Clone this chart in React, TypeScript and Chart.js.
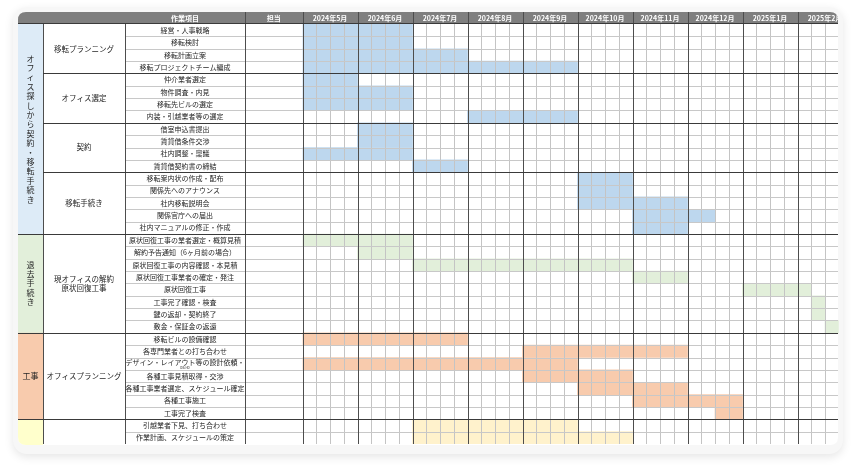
import React, { useEffect, useRef } from 'react';
import { Chart, registerables } from 'chart.js';
Chart.register(...registerables);

// ---------- data ----------
const tasks = [
  '経営・人事戦略', '移転検討', '移転計画立案', '移転プロジェクトチーム編成',
  '仲介業者選定', '物件調査・内見', '移転先ビルの選定', '内装・引越業者等の選定',
  '借室申込書提出', '賃貸借条件交渉', '社内調整・稟議', '賃貸借契約書の締結',
  '移転案内状の作成・配布', '関係先へのアナウンス', '社内移転説明会', '関係官庁への届出', '社内マニュアルの修正・作成',
  '原状回復工事の業者選定・概算見積', '解約予告通知（6ヶ月前の場合）', '原状回復工事の内容確認・本見積', '原状回復工事業者の確定・発注',
  '原状回復工事', '工事完了確認・検査', '鍵の返却・契約終了', '敷金・保証金の返還',
  '移転ビルの設備確認', '各専門業者との打ち合わせ', 'デザイン・レイアウト等の設計依頼・', '各種工事見積取得・交渉',
  '各種工事業者選定、スケジュール確定', '各種工事施工', '工事完了検査',
  '引越業者下見、打ち合わせ', '作業計画、スケジュールの策定',
];
// week index (0 = first week of 2024年5月)
const taskStart = [0, 0, 0, 0, 0, 0, 0, 12, 4, 4, 0, 8, 20, 20, 20, 24, 24, 0, 4, 8, 24, 32, 37, 37, 38, 0, 16, 0, 16, 20, 24, 30, 8, 8];
const taskEnd = [8, 8, 12, 20, 4, 8, 8, 20, 8, 8, 8, 12, 24, 24, 28, 30, 28, 8, 8, 24, 28, 37, 38, 38, 39, 12, 28, 20, 24, 28, 32, 32, 20, 24];

const phaseLabels = ['オフィス探しから契約・移転手続き', '退去手続き', '工事', ''];
const phaseSizes = [17, 8, 7, 2];
const phaseCellColors = ['#ddebf7', '#e2efda', '#f8cbad', '#ffffcc'];
const phaseBarColors = ['#bdd7ee', '#e2efda', '#f8cbad', '#fff2cc'];

const subgroupLabels = ['移転プランニング', 'オフィス選定', '契約', '移転手続き', '現オフィスの解約\n原状回復工事', 'オフィスプランニング', ''];
const subgroupSizes = [4, 4, 4, 5, 8, 7, 2];

const monthLabels = ['2024年5月', '2024年6月', '2024年7月', '2024年8月', '2024年9月', '2024年10月', '2024年11月', '2024年12月', '2025年1月', '2025年2月'];

const rowPhase: number[] = [];
phaseSizes.forEach((n, p) => { for (let i = 0; i < n; i++) rowPhase.push(p); });

const FONT = '"Noto Sans CJK JP", "Noto Sans", sans-serif';

// column edges of the left table
const C0 = 18, C1 = 43, C2 = 125, C3 = 245;
const TABLE_TOP = 12, HEADER_BOTTOM = 24, TABLE_BOTTOM = 444, TABLE_RIGHT = 838;

function roundRect(ctx: CanvasRenderingContext2D, x: number, y: number, w: number, h: number, r: number) {
  ctx.beginPath();
  ctx.moveTo(x + r, y);
  ctx.lineTo(x + w - r, y);
  ctx.quadraticCurveTo(x + w, y, x + w, y + r);
  ctx.lineTo(x + w, y + h - r);
  ctx.quadraticCurveTo(x + w, y + h, x + w - r, y + h);
  ctx.lineTo(x + r, y + h);
  ctx.quadraticCurveTo(x, y + h, x, y + h - r);
  ctx.lineTo(x, y + r);
  ctx.quadraticCurveTo(x, y, x + r, y);
  ctx.closePath();
}

function hLine(ctx: CanvasRenderingContext2D, x1: number, x2: number, y: number, color: string) {
  ctx.strokeStyle = color;
  ctx.lineWidth = 1;
  ctx.beginPath();
  ctx.moveTo(x1, Math.round(y) + 0.5);
  ctx.lineTo(x2, Math.round(y) + 0.5);
  ctx.stroke();
}
function vLine(ctx: CanvasRenderingContext2D, x: number, y1: number, y2: number, color: string) {
  ctx.strokeStyle = color;
  ctx.lineWidth = 1;
  ctx.beginPath();
  ctx.moveTo(Math.round(x) + 0.5, y1);
  ctx.lineTo(Math.round(x) + 0.5, y2);
  ctx.stroke();
}

const ganttPlugin = {
  id: 'ganttTable',
  beforeDatasetsDraw(chart: any) {
    const ctx: CanvasRenderingContext2D = chart.ctx;
    const y = chart.scales.y;
    const rowH = (chart.chartArea.bottom - chart.chartArea.top) / tasks.length;
    ctx.save();
    roundRect(ctx, C0, TABLE_TOP, TABLE_RIGHT - C0, TABLE_BOTTOM - TABLE_TOP + 1, 8);
    ctx.fillStyle = '#ffffff';
    ctx.fill();
    // phase cells
    let r = 0;
    ctx.clip();
    phaseSizes.forEach((n, p) => {
      const top = y.getPixelForValue(r) - rowH / 2;
      const bot = y.getPixelForValue(r + n - 1) + rowH / 2;
      ctx.fillStyle = phaseCellColors[p];
      ctx.fillRect(C0, top, C1 - C0, bot - top + 1);
      r += n;
    });
    // header
    ctx.fillStyle = '#7f7f7f';
    ctx.fillRect(C0, TABLE_TOP, TABLE_RIGHT - C0, HEADER_BOTTOM - TABLE_TOP);
    ctx.restore();
  },
  afterDatasetsDraw(chart: any) {
    const ctx: CanvasRenderingContext2D = chart.ctx;
    const x = chart.scales.x;
    const y = chart.scales.y;
    const area = chart.chartArea;
    const rowH = (area.bottom - area.top) / tasks.length;
    const rowTop = (i: number) => y.getPixelForValue(i) - rowH / 2;
    ctx.save();
    roundRect(ctx, C0, TABLE_TOP, TABLE_RIGHT - C0, TABLE_BOTTOM - TABLE_TOP + 1, 8);
    ctx.clip();

    // week lines
    for (let w = 1; w <= 40; w++) {
      if (w % 4 === 0) continue;
      const px = x.getPixelForValue(w);
      vLine(ctx, px, HEADER_BOTTOM, TABLE_BOTTOM, '#c4c4c4');
    }
    // row boundaries
    const subBounds = new Set<number>();
    let acc = 0;
    subgroupSizes.forEach((n) => { acc += n; subBounds.add(acc); });
    const phaseBounds = new Set<number>();
    acc = 0;
    phaseSizes.forEach((n) => { acc += n; phaseBounds.add(acc); });
    for (let i = 1; i < tasks.length; i++) {
      if (!subBounds.has(i)) hLine(ctx, C2, TABLE_RIGHT, rowTop(i), '#c8c8c8');
    }
    // month lines
    for (let m = 0; m <= 10; m++) {
      const px = x.getPixelForValue(m * 4);
      vLine(ctx, px, TABLE_TOP, TABLE_BOTTOM, '#4d4d4d');
    }
    // table verticals
    [C1, C2, C3].forEach((cx) => vLine(ctx, cx, HEADER_BOTTOM, TABLE_BOTTOM, '#4d4d4d'));
    vLine(ctx, C3, TABLE_TOP, HEADER_BOTTOM, '#4d4d4d');
    // subgroup / phase boundaries
    for (let i = 1; i < tasks.length; i++) {
      if (phaseBounds.has(i)) hLine(ctx, C0, TABLE_RIGHT, rowTop(i), '#3a3a3a');
      else if (subBounds.has(i)) hLine(ctx, C1, TABLE_RIGHT, rowTop(i), '#3a3a3a');
    }
    hLine(ctx, C0, TABLE_RIGHT, HEADER_BOTTOM - 1, '#3a3a3a');

    // header texts
    ctx.fillStyle = '#ffffff';
    ctx.textAlign = 'center';
    ctx.textBaseline = 'middle';
    ctx.font = `bold 7px ${FONT}`;
    const hy = (TABLE_TOP + HEADER_BOTTOM) / 2;
    ctx.fillText('作業項目', (C2 + C3) / 2, hy);
    ctx.fillText('担当', (C3 + area.left) / 2, hy);
    monthLabels.forEach((lab, m) => {
      ctx.fillText(lab, x.getPixelForValue(m * 4 + 2), hy);
    });

    // task names
    ctx.fillStyle = '#262626';
    ctx.font = `7px ${FONT}`;
    tasks.forEach((t, i) => {
      const cy = y.getPixelForValue(i);
      if (t.startsWith('デザイン')) {
        ctx.fillText(t, (C2 + C3) / 2, cy - 1);
        ctx.font = `3px ${FONT}`;
        ctx.fillText('DB-HD', (C2 + C3) / 2, cy + 4);
        ctx.font = `7px ${FONT}`;
      } else {
        ctx.fillText(t, (C2 + C3) / 2, cy);
      }
    });

    // subgroup labels
    ctx.font = `7.5px ${FONT}`;
    let r = 0;
    subgroupSizes.forEach((n, s) => {
      const cy = (rowTop(r) + rowTop(r + n)) / 2;
      const lines = subgroupLabels[s].split('\n');
      const lh = 8.5;
      lines.forEach((ln, k) => {
        ctx.fillText(ln, (C1 + C2) / 2, cy + (k - (lines.length - 1) / 2) * lh);
      });
      r += n;
    });

    // phase labels
    ctx.font = `8px ${FONT}`;
    r = 0;
    phaseSizes.forEach((n, p) => {
      const cy = (rowTop(r) + rowTop(r + n)) / 2;
      const lab = phaseLabels[p];
      const cx = (C0 + C1) / 2;
      if (lab.length <= 2) {
        ctx.fillText(lab, cx, cy);
      } else {
        const step = 9.4;
        const chars = Array.from(lab);
        chars.forEach((ch, k) => {
          ctx.fillText(ch, cx, cy + (k - (chars.length - 1) / 2) * step);
        });
      }
      r += n;
    });
    ctx.restore();
  },
};

export default function App() {
  const ref = useRef<HTMLCanvasElement>(null);
  useEffect(() => {
    if (!ref.current) return;
    const chart = new Chart(ref.current, {
      type: 'bar',
      data: {
        labels: tasks,
        datasets: [
          {
            data: tasks.map((_, i) => [taskStart[i], taskEnd[i]]) as any,
            backgroundColor: rowPhase.map((p) => phaseBarColors[p]),
            borderWidth: 0,
            barPercentage: 1,
            categoryPercentage: 1,
          },
        ],
      },
      options: {
        indexAxis: 'y',
        responsive: false,
        animation: false,
        layout: { padding: { left: 302.5, top: 24, right: 856 - 838.75, bottom: 470 - 444 } },
        plugins: { legend: { display: false }, tooltip: { enabled: false } },
        scales: {
          x: { type: 'linear', min: 0, max: 39, display: false },
          y: { type: 'category', display: false, offset: true },
        },
      },
      plugins: [ganttPlugin],
    });
    return () => chart.destroy();
  }, []);

  return (
    <div style={{ position: 'fixed', left: 0, top: 0, width: 856, height: 470, background: '#ffffff' }}>
      <div
        style={{
          position: 'absolute', left: 13, top: 7, width: 830, height: 447,
          borderRadius: 14, background: '#f7f7f7', boxShadow: '0 3px 10px rgba(0,0,0,0.10)',
        }}
      />
      <canvas ref={ref} width={856} height={470} style={{ position: 'absolute', left: 0, top: 0, width: 856, height: 470 }} />
    </div>
  );
}
